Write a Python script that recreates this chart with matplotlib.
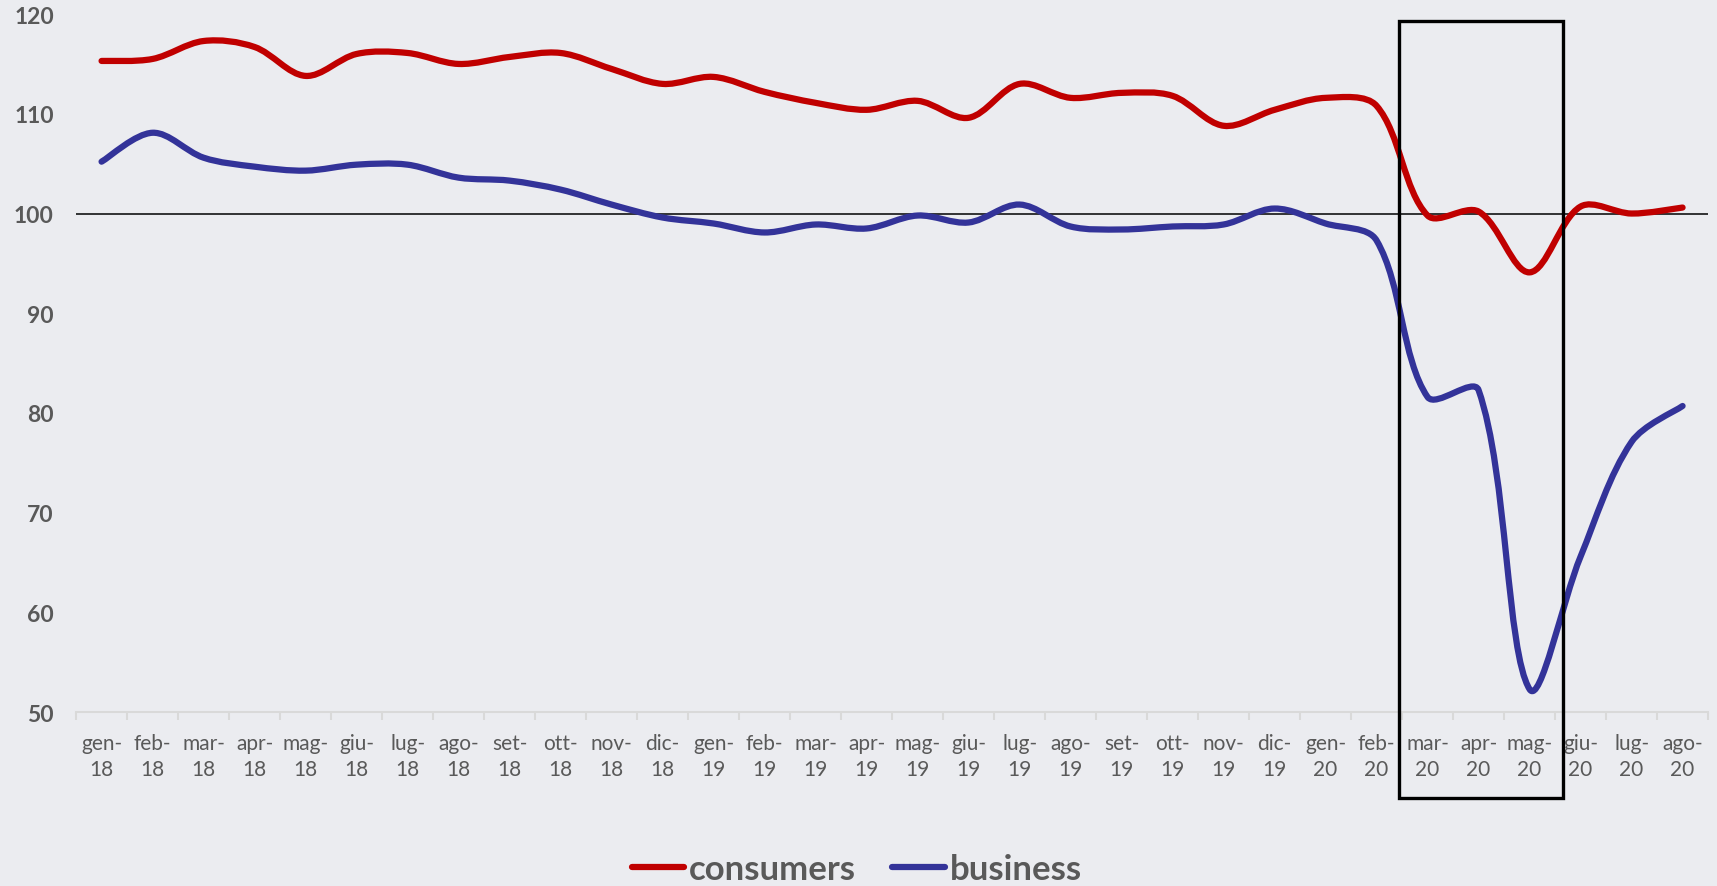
import matplotlib
matplotlib.use("Agg")
import matplotlib.pyplot as plt
from matplotlib.path import Path
from matplotlib.patches import PathPatch, Rectangle
from matplotlib.lines import Line2D

months = ["gen", "feb", "mar", "apr", "mag", "giu",
          "lug", "ago", "set", "ott", "nov", "dic"]
tick_labels = [f"{m}-\n{y}" for y in ("18", "19", "20") for m in months][:32]

consumers = [115.3, 115.5, 117.3, 116.7, 113.8, 116.0, 116.1, 115.0, 115.7, 116.1,
             114.5, 113.0, 113.7, 112.2, 111.1, 110.4, 111.3, 109.6, 113.0, 111.6,
             112.1, 111.8, 108.8, 110.4, 111.6, 110.8, 99.8, 100.2, 94.1, 100.7,
             100.0, 100.6]
business = [105.2, 108.1, 105.6, 104.7, 104.3, 104.9, 104.9, 103.6, 103.3, 102.4,
            100.9, 99.6, 99.0, 98.1, 98.9, 98.5, 99.8, 99.1, 100.9, 98.7,
            98.4, 98.7, 98.9, 100.5, 99.0, 97.3, 81.6, 82.3, 52.3, 65.6,
            77.1, 80.7]

RED = "#C00000"
BLUE = "#333399"
BG = "#EBECF0"
GRAY = "#595959"


def smooth_path(xs, ys, sx=51.0, sy=9.97):
    # bezier segments through every point; control arms are weighted by the
    # on-screen length of the neighbouring segments (sx, sy = px per unit)
    n = len(xs)

    def dist(i, j):
        return (((xs[j] - xs[i]) * sx) ** 2 + ((ys[j] - ys[i]) * sy) ** 2) ** 0.5

    verts = [(xs[0], ys[0])]
    codes = [Path.MOVETO]
    for i in range(n - 1):
        j = i + 1
        a = max(i - 1, 0)
        d = min(j + 1, n - 1)
        d_in, d_out = dist(a, i), dist(i, j)
        w1 = d_out / (d_in + d_out) / 3 if a != i else 1 / 6
        e_in, e_out = dist(i, j), dist(j, d)
        w2 = e_in / (e_in + e_out) / 3 if d != j else 1 / 6
        c1 = (xs[i] + (xs[j] - xs[a]) * w1, ys[i] + (ys[j] - ys[a]) * w1)
        c2 = (xs[j] - (xs[d] - xs[i]) * w2, ys[j] - (ys[d] - ys[i]) * w2)
        verts += [c1, c2, (xs[j], ys[j])]
        codes += [Path.CURVE4] * 3
    return Path(verts, codes)


plt.rcParams["font.family"] = ["Lato", "DejaVu Sans"]

fig = plt.figure(figsize=(17.17, 8.87), dpi=100, facecolor=BG)
ax = fig.add_axes([0.0443, 0.196, 0.9505, 0.787])
ax.set_facecolor(BG)

x = list(range(len(tick_labels)))
for vals, col in ((consumers, RED), (business, BLUE)):
    ax.add_patch(PathPatch(smooth_path(x, vals), fill=False, edgecolor=col,
                           lw=4.5, capstyle="round", joinstyle="round", zorder=3))

ax.axhline(100, color="black", lw=1.1, zorder=2)

ax.set_xlim(-0.5, len(x) - 0.5)
ax.set_ylim(50, 120)
ax.set_yticks(range(50, 121, 10))
ax.set_xticks(x)
ax.set_xticklabels(tick_labels, linespacing=1.35)
ax.set_xticks([i - 0.5 for i in range(len(x) + 1)], minor=True)

for s in ("top", "right", "left"):
    ax.spines[s].set_visible(False)
ax.spines["bottom"].set_color("#D9D9D9")
ax.spines["bottom"].set_linewidth(1.5)

ax.tick_params(axis="y", length=0, pad=16, labelsize=16.5, labelcolor=GRAY)
for lbl in ax.get_yticklabels():
    lbl.set_fontweight("bold")
ax.tick_params(axis="x", which="major", length=0, pad=15, labelsize=15, labelcolor=GRAY)
ax.tick_params(axis="x", which="minor", length=6, width=1.5, color="#D9D9D9")

# highlight frame around the lockdown months
ax.add_patch(Rectangle((25.44, 41.4), 3.22, 77.9, fill=False, edgecolor="black",
                       lw=2.4, clip_on=False, zorder=4))

handles = [Line2D([], [], color=RED, lw=4.5, solid_capstyle="round"),
           Line2D([], [], color=BLUE, lw=4.5, solid_capstyle="round")]
leg = fig.legend(handles, ["consumers", "business"], loc="center",
                 bbox_to_anchor=(0.499, 0.019), ncol=2, frameon=False,
                 handlelength=1.5, handletextpad=0.15, columnspacing=1.05,
                 prop={"size": 25, "weight": "bold"})
for t in leg.get_texts():
    t.set_color(GRAY)

fig.savefig("out.png", dpi=100, facecolor=BG)
